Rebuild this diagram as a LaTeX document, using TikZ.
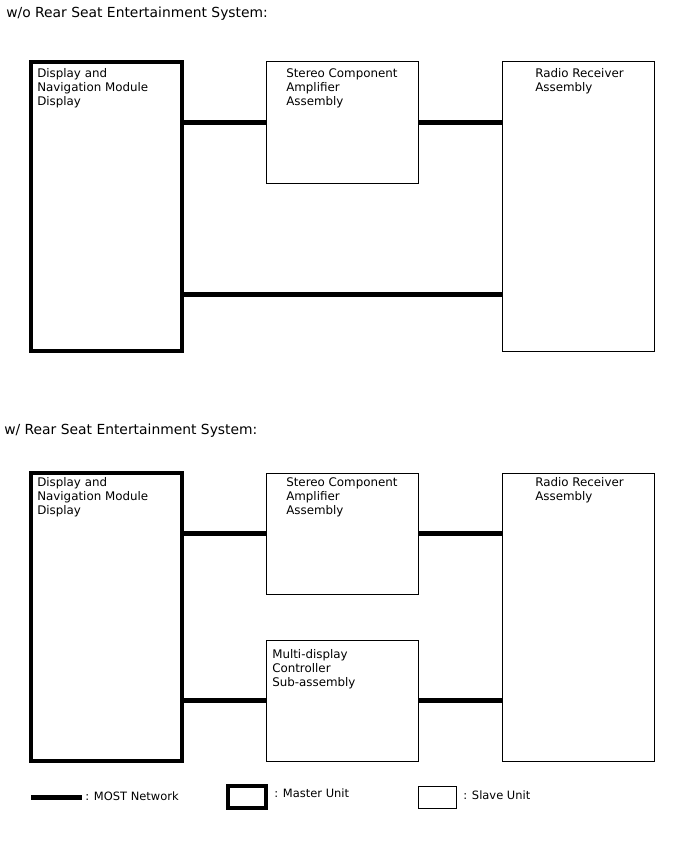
\documentclass[tikz,border=0pt]{standalone}
\usepackage{fontspec}
\setmainfont{DejaVu Sans}
\begin{document}
\begin{tikzpicture}[x=0.75pt,y=-0.75pt,
  master/.style={draw=black,line width=3pt,anchor=north west,inner sep=0,outer sep=0},
  slave/.style={draw=black,line width=0.75pt,anchor=north west,inner sep=0,outer sep=0},
  net/.style={draw=black,line width=3.75pt},
  lbl/.style={anchor=north west,inner sep=0,align=left,font=\fontsize{8.9pt}{10.5pt}\selectfont},
  ttl/.style={anchor=base west,inner sep=0,font=\fontsize{10.4pt}{12pt}\selectfont},
  leg/.style={anchor=base west,inner sep=0,font=\fontsize{8.6pt}{10.5pt}\selectfont}]
\useasboundingbox[fill=white] (0,0) rectangle (688,852);
% --- top section
\node[ttl] (t1) at (6,18) {w/o Rear Seat Entertainment System:};
\node[master,minimum width=113.25pt,minimum height=216.75pt] (m1) at (31,62) {};
\node[slave,minimum width=114pt,minimum height=91.5pt] (s1) at (266,62) {};
\node[slave,minimum width=114pt,minimum height=216.75pt] (r1) at (502,62) {};
\node[lbl] (m1t) at (37,68) {Display and\\Navigation Module\\Display};
\node[lbl] (s1t) at (286,68) {Stereo Component\\Amplifier\\Assembly};
\node[lbl] (r1t) at (535,68) {Radio Receiver\\Assembly};
\coordinate (y1) at (0,294);
\draw[net] (m1.east |- s1.west) -- (s1.west);
\draw[net] (s1.east) -- (r1.west |- s1.east);
\draw[net] (m1.east |- y1) -- (r1.west |- y1);
% --- bottom section
\node[ttl] (t2) at (4,434) {w/ Rear Seat Entertainment System:};
\node[master,minimum width=113.25pt,minimum height=216pt] (m2) at (31,473) {};
\node[slave,minimum width=114pt,minimum height=90.75pt] (s2) at (266,473) {};
\node[slave,minimum width=114pt,minimum height=90.75pt] (c2) at (266,640) {};
\node[slave,minimum width=114pt,minimum height=216pt] (r2) at (502,473) {};
\node[lbl] (m2t) at (37,477) {Display and\\Navigation Module\\Display};
\node[lbl] (s2t) at (286,477) {Stereo Component\\Amplifier\\Assembly};
\node[lbl] (c2t) at (272,649) {Multi-display\\Controller\\Sub-assembly};
\node[lbl] (r2t) at (535,477) {Radio Receiver\\Assembly};
\draw[net] (m2.east |- s2.west) -- (s2.west);
\draw[net] (s2.east) -- (r2.west |- s2.east);
\draw[net] (m2.east |- c2.west) -- (c2.west);
\draw[net] (c2.east) -- (r2.west |- c2.east);
% --- legend
\coordinate (la) at (31,797);
\coordinate (lb) at (82,797);
\draw[net] (la) -- (lb);
\node[leg] (l1) at (85,800) {: MOST Network};
\node[master,minimum width=28.5pt,minimum height=16.5pt] (lm) at (228,786) {};
\node[leg] (l2) at (274,797) {: Master Unit};
\node[slave,minimum width=28.5pt,minimum height=16.5pt] (ls) at (418,786) {};
\node[leg] (l3) at (463,799) {: Slave Unit};
\end{tikzpicture}
\end{document}
